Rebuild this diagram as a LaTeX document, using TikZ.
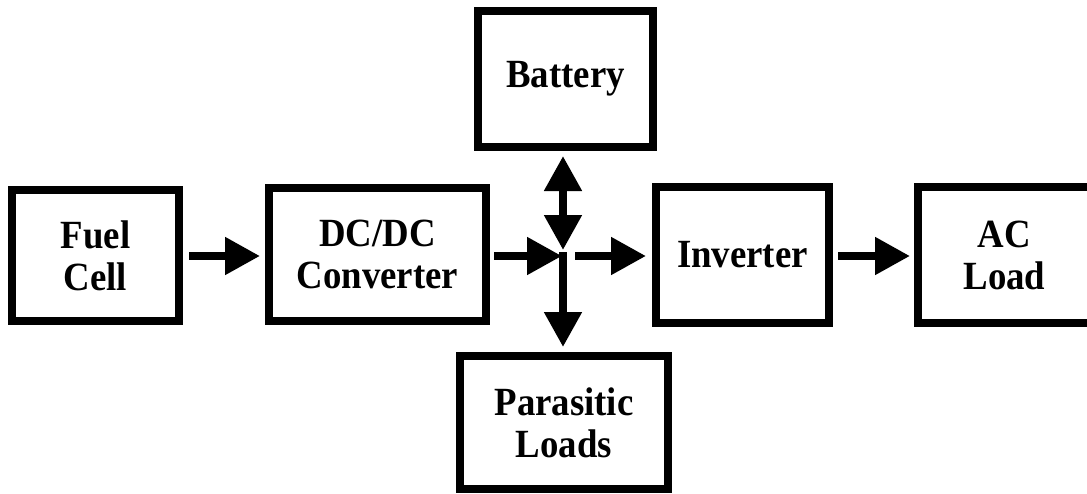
\documentclass[tikz,border=0pt]{standalone}
\usepackage{fontspec}
\setmainfont{Liberation Serif}[FakeStretch=0.92]
\usetikzlibrary{arrows.meta}
\begin{document}
\begin{tikzpicture}[x=1pt,y=-1pt,
  blockbox/.style={draw=black, line width=8pt, fill=white, inner sep=0pt,
    align=center, font=\fontsize{40}{42}\selectfont\bfseries},
  arr/.style={line width=8pt, -{Triangle[length=35pt,width=36pt]}},
  darr/.style={line width=8pt, {Triangle[length=35pt,width=36pt]}-{Triangle[length=35pt,width=36pt]}}]
\useasboundingbox (0,0) rectangle (1087,493);
\clip (0,0) rectangle (1087,493);
\node[blockbox, minimum width=167pt, minimum height=131pt] (fc) at (95.5,255.5) {Fuel\\Cell};
\node[blockbox, minimum width=217pt, minimum height=133pt] (dc) at (377.5,254.5) {DC/DC\\Converter};
\node[blockbox, minimum width=175pt, minimum height=136pt] (bat) at (565.5,79) {Battery};
\node[blockbox, minimum width=173pt, minimum height=136pt] (inv) at (742.5,255) {Inverter};
\node[blockbox, minimum width=173pt, minimum height=136pt] (ac) at (1004.5,255) {AC\\Load};
\node[blockbox, minimum width=208pt, minimum height=133pt] (par) at (564,422.5) {Parasitic\\Loads};
\coordinate (J) at (563,256);
\draw[arr, shorten <=6pt, shorten >=5pt] (fc.east |- 0,256) -- (dc.west |- 0,256);
\draw[arr, shorten <=4pt, shorten >=1pt] (dc.east |- J) -- (J);
\draw[arr, shorten <=12pt, shorten >=6pt] (J) -- (inv.west |- J);
\draw[arr, shorten <=5pt, shorten >=4pt] (inv.east |- J) -- (ac.west |- J);
\draw[darr, shorten <=5pt, shorten >=6pt] (bat.south -| J) -- (J);
\draw[arr, shorten <=-4pt, shorten >=5pt] (J) -- (par.north -| J);
\end{tikzpicture}
\end{document}
